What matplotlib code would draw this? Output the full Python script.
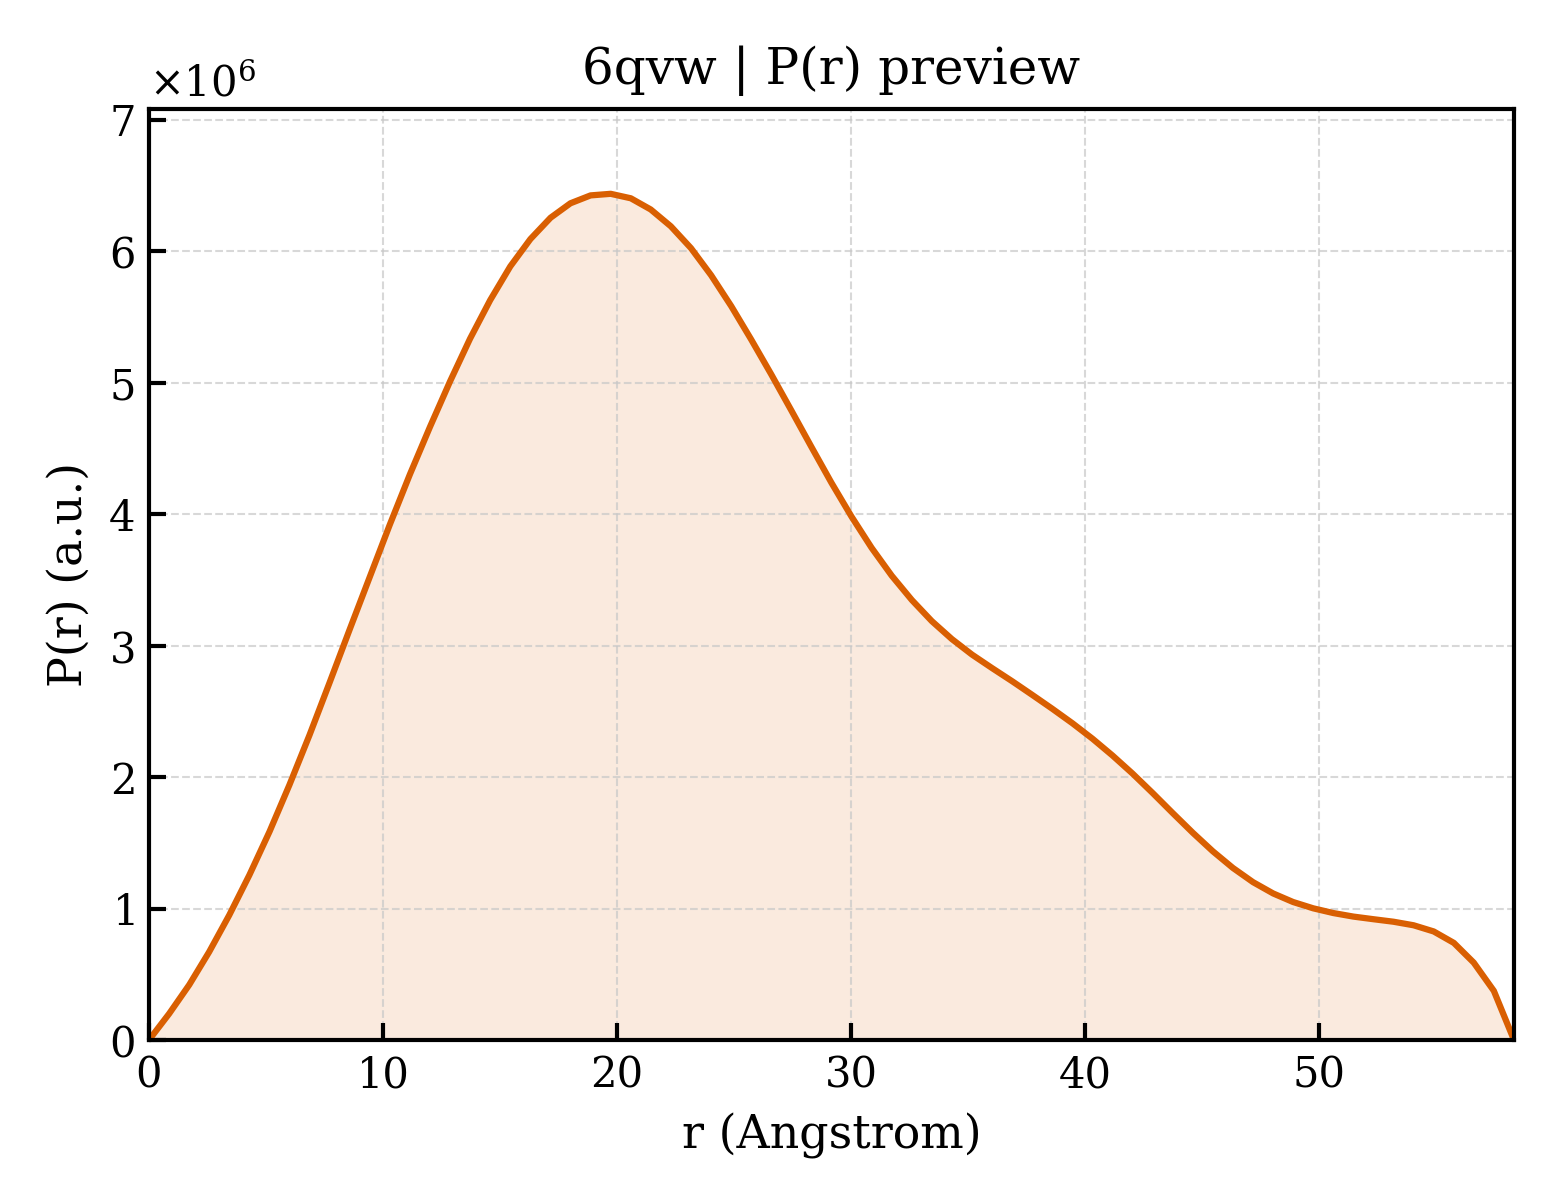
import numpy as np
import matplotlib
matplotlib.use("Agg")
import matplotlib.pyplot as plt


r_angstrom = [
    0.00, 0.86, 1.72, 2.57, 3.43, 4.29, 5.15, 6.00, 6.86, 7.72,
    8.58, 9.44, 10.29, 11.15, 12.01, 12.87, 13.72, 14.58, 15.44, 16.30,
    17.16, 18.01, 18.87, 19.73, 20.59, 21.44, 22.30, 23.16, 24.02, 24.88,
    25.73, 26.59, 27.45, 28.31, 29.16, 30.02, 30.88, 31.74, 32.60, 33.45,
    34.31, 35.17, 36.03, 36.89, 37.74, 38.60, 39.46, 40.32, 41.17, 42.03,
    42.89, 43.75, 44.61, 45.46, 46.32, 47.18, 48.04, 48.89, 49.75, 50.61,
    51.47, 52.33, 53.18, 54.04, 54.90, 55.76, 56.61, 57.47, 58.33,
]
p_r_millions = [
    0.000, 0.200, 0.420, 0.670, 0.950, 1.255, 1.585, 1.940, 2.320, 2.720,
    3.125, 3.525, 3.920, 4.303, 4.665, 5.012, 5.335, 5.628, 5.885, 6.093,
    6.255, 6.365, 6.425, 6.437, 6.403, 6.318, 6.190, 6.024, 5.818, 5.583,
    5.330, 5.064, 4.789, 4.511, 4.240, 3.982, 3.744, 3.532, 3.347, 3.187,
    3.050, 2.932, 2.829, 2.729, 2.626, 2.520, 2.410, 2.292, 2.165, 2.027,
    1.879, 1.726, 1.576, 1.436, 1.309, 1.201, 1.115, 1.050, 1.002, 0.966,
    0.939, 0.919, 0.900, 0.873, 0.826, 0.739, 0.589, 0.374, 0.000,
]
PDB_ID = "6qvw"
LINE_COLOR = "#d95f02"

plt.rcParams["font.family"] = "DejaVu Serif"
plt.rcParams["mathtext.fontset"] = "dejavuserif"

r = np.array(r_angstrom)
pr = np.array(p_r_millions) * 1e6

fig, ax = plt.subplots(figsize=(5.2, 4.0), dpi=300)
fig.subplots_adjust(left=0.0955, right=0.9705, top=0.909, bottom=0.1333)

ax.fill_between(r, pr, 0, color=LINE_COLOR, alpha=0.13, linewidth=0)
ax.plot(r, pr, color=LINE_COLOR, linewidth=1.5)

ax.set_xlim(0, r.max())
ax.set_ylim(0, pr.max() * 1.1)
ax.set_title(f"{PDB_ID} | P(r) preview", fontsize=12)
ax.set_xlabel("r (Angstrom)", fontsize=11)
ax.set_ylabel("P(r) (a.u.)", fontsize=11)
ax.ticklabel_format(axis="y", style="sci", scilimits=(0, 0), useMathText=True)
ax.yaxis.get_offset_text().set_fontsize(10)

ax.tick_params(direction="in", length=4, width=1, labelsize=10)
for spine in ax.spines.values():
    spine.set_linewidth(1.0)
ax.grid(True, linestyle="--", linewidth=0.5, color="#c8c8c8", alpha=0.7)

fig.savefig("out.png", dpi=300)
plt.close(fig)
